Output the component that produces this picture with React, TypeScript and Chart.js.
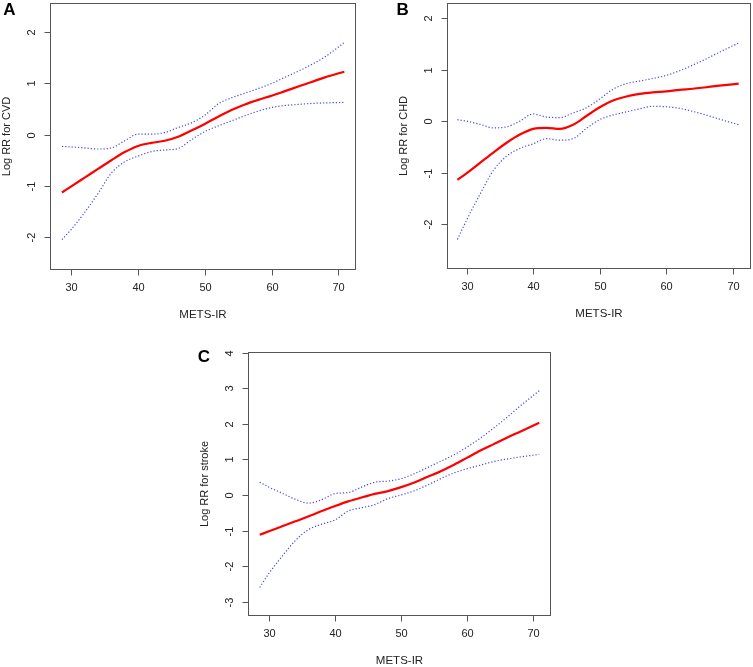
import React, { useEffect, useRef } from "react";
import { Chart, registerables } from "chart.js";

Chart.register(...registerables);

// ---- Data ----
const metsIr = [28.6, 30, 32, 34, 36, 38, 40, 42, 44, 46, 48, 50, 52, 54, 56, 58, 60, 62, 64, 66, 68, 70.9];

const cvdFit = [-1.13, -1.01, -0.84, -0.67, -0.5, -0.34, -0.22, -0.16, -0.12, -0.04, 0.08, 0.21, 0.35, 0.48, 0.59, 0.68, 0.76, 0.85, 0.94, 1.03, 1.12, 1.23];
const cvdUpper = [-0.23, -0.24, -0.26, -0.28, -0.26, -0.12, 0.01, 0.01, 0.04, 0.14, 0.23, 0.38, 0.6, 0.72, 0.81, 0.9, 1.0, 1.12, 1.24, 1.37, 1.52, 1.8];
const cvdLower = [-2.05, -1.85, -1.52, -1.15, -0.75, -0.53, -0.42, -0.33, -0.3, -0.27, -0.1, 0.06, 0.17, 0.27, 0.37, 0.46, 0.53, 0.57, 0.59, 0.61, 0.62, 0.63];

const chdFit = [-1.14, -1.01, -0.81, -0.61, -0.42, -0.26, -0.15, -0.13, -0.15, -0.07, 0.1, 0.27, 0.4, 0.48, 0.53, 0.56, 0.58, 0.61, 0.63, 0.66, 0.69, 0.73];
const chdUpper = [0.03, 0.0, -0.06, -0.13, -0.11, 0.0, 0.14, 0.08, 0.07, 0.16, 0.26, 0.43, 0.62, 0.73, 0.78, 0.83, 0.89, 0.98, 1.09, 1.21, 1.34, 1.52];
const chdLower = [-2.3, -1.92, -1.42, -0.96, -0.68, -0.53, -0.44, -0.34, -0.37, -0.34, -0.14, 0.03, 0.12, 0.18, 0.24, 0.29, 0.28, 0.25, 0.19, 0.12, 0.04, -0.07];

const strokeFit = [-1.12, -1.02, -0.88, -0.74, -0.6, -0.45, -0.31, -0.18, -0.07, 0.03, 0.11, 0.22, 0.35, 0.51, 0.67, 0.85, 1.05, 1.25, 1.43, 1.61, 1.78, 2.03];
const strokeUpper = [0.36, 0.22, 0.05, -0.12, -0.23, -0.13, 0.04, 0.07, 0.22, 0.36, 0.39, 0.46, 0.6, 0.77, 0.95, 1.13, 1.35, 1.6, 1.88, 2.18, 2.5, 2.93];
const strokeLower = [-2.6, -2.2, -1.72, -1.28, -0.97, -0.82, -0.7, -0.45, -0.36, -0.27, -0.1, 0.0, 0.12, 0.28, 0.46, 0.62, 0.74, 0.84, 0.94, 1.01, 1.07, 1.14];

const xTicks = [30, 40, 50, 60, 70];
const yTicksAB = [-2, -1, 0, 1, 2];
const yTicksC = [-3, -2, -1, 0, 1, 2, 3, 4];
const xTitle = "METS-IR";

const FONT = "'Liberation Sans', Arial, Helvetica, sans-serif";

const framePlugin = {
  id: "rframe",
  afterDraw(chart: any, _args: any, opts: any) {
    const { ctx, chartArea: a, scales } = chart;
    const xs = scales.x;
    const ys = scales.y;
    ctx.save();
    ctx.strokeStyle = "#555";
    ctx.lineWidth = 1;
    ctx.setLineDash([]);
    ctx.strokeRect(a.left, a.top, a.right - a.left, a.bottom - a.top);
    // x ticks
    ctx.fillStyle = "#222";
    ctx.font = `11px ${FONT}`;
    ctx.textAlign = "center";
    ctx.textBaseline = "middle";
    for (const v of opts.xTicks) {
      const px = Math.round(xs.getPixelForValue(v)) + 0.5;
      ctx.beginPath();
      ctx.moveTo(px, a.bottom);
      ctx.lineTo(px, a.bottom + 6);
      ctx.stroke();
      ctx.fillText(String(v), px, a.bottom + 18.8);
    }
    // y ticks
    for (const v of opts.yTicks) {
      const py = Math.round(ys.getPixelForValue(v)) + 0.5;
      ctx.beginPath();
      ctx.moveTo(a.left, py);
      ctx.lineTo(a.left - 6, py);
      ctx.stroke();
      ctx.save();
      ctx.translate(a.left - 18.5, py);
      ctx.rotate(-Math.PI / 2);
      ctx.fillText(String(v), 0, 0);
      ctx.restore();
    }
    // titles
    ctx.font = `11.5px ${FONT}`;
    ctx.fillText(opts.xTitle, (a.left + a.right) / 2, a.bottom + 45.3);
    ctx.font = `11px ${FONT}`;
    ctx.save();
    ctx.translate(a.left - 43.8, (a.top + a.bottom) / 2);
    ctx.rotate(-Math.PI / 2);
    ctx.fillText(opts.yTitle, 0, 0);
    ctx.restore();
    // panel letter
    ctx.font = `bold 17px ${FONT}`;
    ctx.fillStyle = "#000";
    ctx.fillText(opts.letter, opts.letterX, opts.letterY);
    ctx.restore();
  },
};

type PanelProps = {
  left: number;
  top: number;
  width: number;
  height: number;
  padding: { left: number; top: number; right: number; bottom: number };
  xMin: number;
  xMax: number;
  yMin: number;
  yMax: number;
  fit: number[];
  upper: number[];
  lower: number[];
  yTicks: number[];
  yTitle: string;
  letter: string;
  letterX: number;
  letterY: number;
};

function toPoints(ys: number[]) {
  return metsIr.map((x, i) => ({ x, y: ys[i] }));
}

function Panel(p: PanelProps) {
  const ref = useRef<HTMLCanvasElement | null>(null);
  useEffect(() => {
    if (!ref.current) return;
    const dotted = {
      borderColor: "rgb(70,70,240)",
      borderWidth: 1.2,
      borderDash: [1.2, 2],
      pointRadius: 0,
      cubicInterpolationMode: "monotone" as const,
      fill: false,
    };
    const chart = new Chart(ref.current, {
      type: "line",
      data: {
        datasets: [
          { ...dotted, label: "upper", data: toPoints(p.upper) },
          { ...dotted, label: "lower", data: toPoints(p.lower) },
          {
            label: "fit",
            data: toPoints(p.fit),
            borderColor: "#ff0000",
            borderWidth: 2.2,
            pointRadius: 0,
            cubicInterpolationMode: "monotone",
            fill: false,
          },
        ],
      },
      options: {
        animation: false,
        responsive: false,
        layout: { padding: p.padding },
        scales: {
          x: { type: "linear", min: p.xMin, max: p.xMax, display: false },
          y: { type: "linear", min: p.yMin, max: p.yMax, display: false },
        },
        plugins: {
          legend: { display: false },
          tooltip: { enabled: false },
          rframe: {
            xTicks,
            yTicks: p.yTicks,
            xTitle,
            yTitle: p.yTitle,
            letter: p.letter,
            letterX: p.letterX,
            letterY: p.letterY,
          },
        } as any,
      },
      plugins: [framePlugin],
    });
    return () => chart.destroy();
  }, []);
  return (
    <canvas
      ref={ref}
      width={p.width}
      height={p.height}
      style={{ position: "absolute", left: p.left, top: p.top, width: p.width, height: p.height }}
    />
  );
}

export default function App() {
  return (
    <div style={{ position: "absolute", left: 0, top: 0, width: 753, height: 667, background: "#fff", overflow: "hidden" }}>
      <Panel
        left={0}
        top={0}
        width={376}
        height={330}
        padding={{ left: 50.5, top: 3.5, right: 20.5, bottom: 60.5 }}
        xMin={26.88}
        xMax={72.58}
        yMin={-2.635}
        yMax={2.563}
        fit={cvdFit}
        upper={cvdUpper}
        lower={cvdLower}
        yTicks={yTicksAB}
        yTitle="Log RR for CVD"
        letter="A"
        letterX={9.5}
        letterY={10.5}
      />
      <Panel
        left={376}
        top={0}
        width={377}
        height={330}
        padding={{ left: 71.5, top: 3.5, right: 2.5, bottom: 61.5 }}
        xMin={27.11}
        xMax={72.68}
        yMin={-2.865}
        yMax={2.288}
        fit={chdFit}
        upper={chdUpper}
        lower={chdLower}
        yTicks={yTicksAB}
        yTitle="Log RR for CHD"
        letter="B"
        letterX={26.7}
        letterY={10.5}
      />
      <Panel
        left={190}
        top={330}
        width={380}
        height={337}
        padding={{ left: 58.5, top: 22.5, right: 19.5, bottom: 51.5 }}
        xMin={26.9}
        xMax={72.6}
        yMin={-3.388}
        yMax={4.006}
        fit={strokeFit}
        upper={strokeUpper}
        lower={strokeLower}
        yTicks={yTicksC}
        yTitle="Log RR for stroke"
        letter="C"
        letterX={14}
        letterY={27}
      />
    </div>
  );
}
